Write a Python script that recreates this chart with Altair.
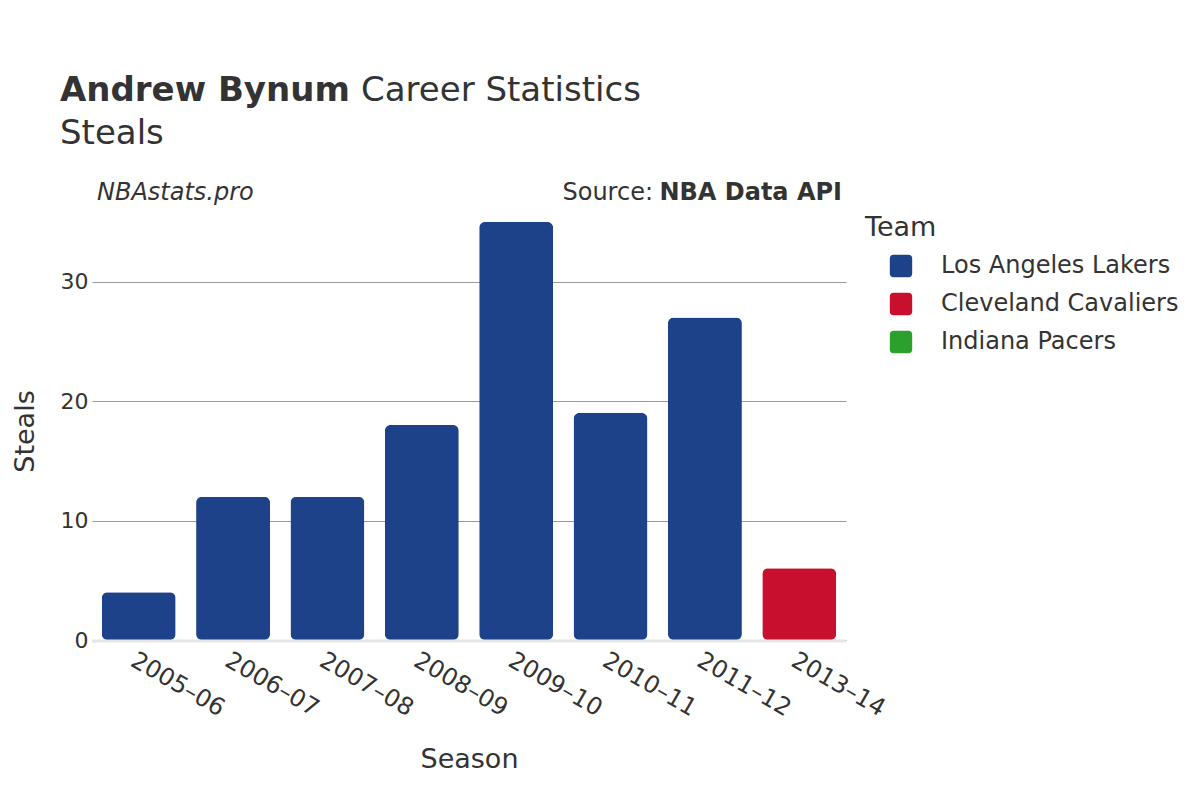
import altair as alt
import pandas as pd

seasons = ["2005–06", "2006–07", "2007–08", "2008–09", "2009–10", "2010–11", "2011–12", "2013–14"]
teams = ["Los Angeles Lakers", "Los Angeles Lakers", "Los Angeles Lakers", "Los Angeles Lakers",
         "Los Angeles Lakers", "Los Angeles Lakers", "Los Angeles Lakers", "Cleveland Cavaliers"]
steals = [4, 12, 12, 18, 35, 19, 27, 6]

team_names = ["Los Angeles Lakers", "Cleveland Cavaliers", "Indiana Pacers"]
team_colors = ["#1D428A", "#C8102E", "#2CA02C"]

df = pd.DataFrame({"Season": seasons, "Team": teams, "Steals": steals})
one = pd.DataFrame({"k": [0]})

FONT = "DejaVu Sans"
TXT = "#333333"

W, H = 754, 418

rounded_square = ("M -0.65 -1 L 0.65 -1 Q 1 -1 1 -0.65 L 1 0.65 Q 1 1 0.65 1 "
                  "L -0.65 1 Q -1 1 -1 0.65 L -1 -0.65 Q -1 -1 -0.65 -1 Z")

bars = alt.Chart(df).mark_bar(cornerRadius=6, size=74).encode(
    x=alt.X("Season:N", sort=seasons, title="Season",
            scale=alt.Scale(paddingInner=0.21, paddingOuter=0.1),
            axis=alt.Axis(labelAngle=30, labelFontSize=24, labelColor=TXT, titleFontSize=27,
                          titleColor=TXT, titleFontWeight="normal", ticks=False, domain=False,
                          labelPadding=8, titlePadding=26, labelFont=FONT, titleFont=FONT)),
    y=alt.Y("Steals:Q", title="Steals",
            scale=alt.Scale(domain=[0, 35], nice=False),
            axis=alt.Axis(values=[0, 10, 20, 30], labelFontSize=22, labelColor=TXT, titleFontSize=27,
                          titleColor=TXT, titleFontWeight="normal", ticks=False, domain=False,
                          grid=True, gridColor="#999999", gridWidth=1, labelPadding=4,
                          titlePadding=21, labelFont=FONT, titleFont=FONT)),
    color=alt.Color("Team:N", scale=alt.Scale(domain=team_names, range=team_colors),
                    legend=alt.Legend(title="Team", orient="none", legendX=773, legendY=-7,
                                      titleFontSize=27, titleColor=TXT, titleFontWeight="normal",
                                      labelFontSize=24, labelColor=TXT, symbolType=rounded_square,
                                      symbolSize=500, symbolStrokeWidth=0, rowPadding=14,
                                      labelOffset=28, padding=0, titlePadding=12, labelLimit=0,
                                      titleFont=FONT, labelFont=FONT, symbolOffset=24)),
)

baseline = alt.Chart(one).mark_rule(color="#e6e6e6", strokeWidth=3).encode(
    x=alt.value(0), x2=alt.value(W), y=alt.value(H + 1)
)

def txt(text, x, y, size, weight="normal", style="normal", align="left"):
    return alt.Chart(one).mark_text(text=text, fontSize=size, fontWeight=weight, fontStyle=style,
                                    align=align, baseline="alphabetic", color=TXT, font=FONT).encode(
        x=alt.value(x), y=alt.value(y))

t1 = txt("Andrew Bynum", -32, -121, 34, weight="bold")
t2 = txt("Career Statistics", 269, -121, 34)
t3 = txt("Steals", -32, -78, 34)
t4 = txt("NBAstats.pro", 5, -22, 24, style="italic")
t5 = txt("Source:", 561, -22, 24, align="right")
t6 = txt("NBA Data API", 750, -22, 24, weight="bold", align="right")

chart = alt.layer(bars, baseline, t1, t2, t3, t4, t5, t6).properties(
    width=W, height=H,
    autosize=alt.AutoSizeParams(type="none"),
    padding={"left": 84, "top": 214, "right": 340, "bottom": 150},
    background="white",
).configure_view(strokeWidth=0, stroke="transparent")

chart.save("out.html", embed_options={"renderer": "svg", "actions": False})
